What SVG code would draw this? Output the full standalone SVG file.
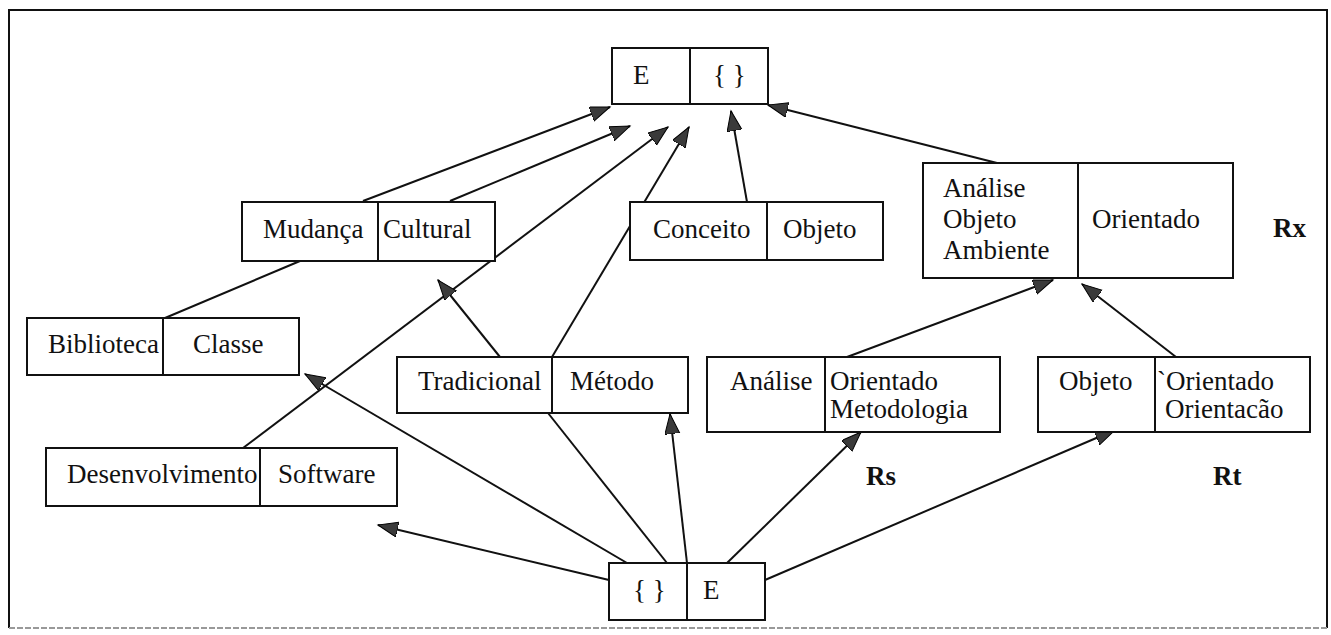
<svg xmlns="http://www.w3.org/2000/svg" width="1331" height="635" viewBox="0 0 1331 635">
<style>
.box{fill:#fff;stroke:#111;stroke-width:2}
.div{stroke:#111;stroke-width:2}
.t{font-family:"Liberation Serif","Times New Roman",serif;font-size:27px;fill:#111}
.b{font-family:"Liberation Serif","Times New Roman",serif;font-size:27px;font-weight:bold;fill:#111}
.c{stroke:#111;stroke-width:2;fill:none}
.a{marker-end:url(#ah)}
</style>
<defs>
<marker id="ah" markerUnits="userSpaceOnUse" markerWidth="22" markerHeight="16" refX="20" refY="7.5" orient="auto">
<path d="M0,0 L20,7.5 L0,15 z" fill="#3a3a3a" stroke="#000" stroke-width="1"/>
</marker>
</defs>
<rect width="1331" height="635" fill="#fff"/>
<g id="frame">
<path d="M9,628 L9,10 L1327,10 L1327,628" fill="none" stroke="#111" stroke-width="2"/>
<path d="M9,628 L1327,628" fill="none" stroke="#999" stroke-width="2" stroke-dasharray="6,2"/>
</g>
<g id="connectors">
<line class="c a" x1="363" y1="201" x2="610" y2="107"/>
<line class="c a" x1="450" y1="201" x2="630" y2="126"/>
<line class="c a" x1="243" y1="448" x2="668" y2="127"/>
<line class="c a" x1="552" y1="357" x2="689" y2="127"/>
<line class="c a" x1="747" y1="202" x2="731" y2="111"/>
<line class="c a" x1="997" y1="163" x2="768" y2="105"/>
<line class="c" x1="300" y1="261" x2="165" y2="318"/>
<line class="c a" x1="500" y1="357" x2="438" y2="280"/>
<line class="c a" x1="847" y1="357" x2="1053" y2="280"/>
<line class="c a" x1="1176" y1="357" x2="1082" y2="284"/>
<line class="c a" x1="609" y1="580" x2="378" y2="525"/>
<line class="c a" x1="627" y1="563" x2="305" y2="374"/>
<line class="c" x1="667" y1="563" x2="548" y2="413"/>
<line class="c a" x1="687" y1="563" x2="670" y2="414"/>
<line class="c a" x1="727" y1="563" x2="861" y2="432"/>
<line class="c a" x1="765" y1="580" x2="1115" y2="430"/>
</g>
<g id="top">
<rect class="box" x="612" y="48" width="156" height="56"/>
<line class="div" x1="690" y1="48" x2="690" y2="104"/>
<text class="t" x="633" y="84">E</text>
<text class="t" x="713" y="84">{ }</text>
</g>
<g id="mudanca">
<rect class="box" x="242" y="202" width="253" height="59"/>
<line class="div" x1="378" y1="202" x2="378" y2="261"/>
<text class="t" x="263" y="238">Mudança</text>
<text class="t" x="383" y="238">Cultural</text>
</g>
<g id="conceito">
<rect class="box" x="630" y="202" width="253" height="58"/>
<line class="div" x1="767" y1="202" x2="767" y2="260"/>
<text class="t" x="653" y="238">Conceito</text>
<text class="t" x="783" y="238">Objeto</text>
</g>
<g id="analise-objeto">
<rect class="box" x="923" y="163" width="310" height="115"/>
<line class="div" x1="1078" y1="163" x2="1078" y2="278"/>
<text class="t" x="943" y="197">Análise</text>
<text class="t" x="943" y="228">Objeto</text>
<text class="t" x="943" y="259">Ambiente</text>
<text class="t" x="1092" y="228">Orientado</text>
</g>
<g id="biblioteca">
<rect class="box" x="27" y="318" width="272" height="57"/>
<line class="div" x1="163" y1="318" x2="163" y2="375"/>
<text class="t" x="48" y="353">Biblioteca</text>
<text class="t" x="193" y="353">Classe</text>
</g>
<g id="tradicional">
<rect class="box" x="397" y="357" width="291" height="56"/>
<line class="div" x1="552" y1="357" x2="552" y2="413"/>
<text class="t" x="418" y="390">Tradicional</text>
<text class="t" x="570" y="390">Método</text>
</g>
<g id="analise-metodologia">
<rect class="box" x="707" y="357" width="293" height="75"/>
<line class="div" x1="825" y1="357" x2="825" y2="432"/>
<text class="t" x="730" y="390">Análise</text>
<text class="t" x="830" y="390">Orientado</text>
<text class="t" x="830" y="418">Metodologia</text>
</g>
<g id="objeto-orientacao">
<rect class="box" x="1038" y="357" width="272" height="75"/>
<line class="div" x1="1155" y1="357" x2="1155" y2="432"/>
<text class="t" x="1059" y="390">Objeto</text>
<text class="t" x="1157" y="390">`Orientado</text>
<text class="t" x="1165" y="418">Orientacão</text>
</g>
<g id="desenvolvimento">
<rect class="box" x="46" y="448" width="351" height="58"/>
<line class="div" x1="260" y1="448" x2="260" y2="506"/>
<text class="t" x="67" y="483">Desenvolvimento</text>
<text class="t" x="278" y="483">Software</text>
</g>
<g id="bottom">
<rect class="box" x="609" y="563" width="156" height="57"/>
<line class="div" x1="687" y1="563" x2="687" y2="620"/>
<text class="t" x="633" y="599">{ }</text>
<text class="t" x="703" y="599">E</text>
</g>
<g id="labels">
<text class="b" x="1273" y="237">Rx</text>
<text class="b" x="866" y="485">Rs</text>
<text class="b" x="1213" y="485">Rt</text>
</g>
</svg>
